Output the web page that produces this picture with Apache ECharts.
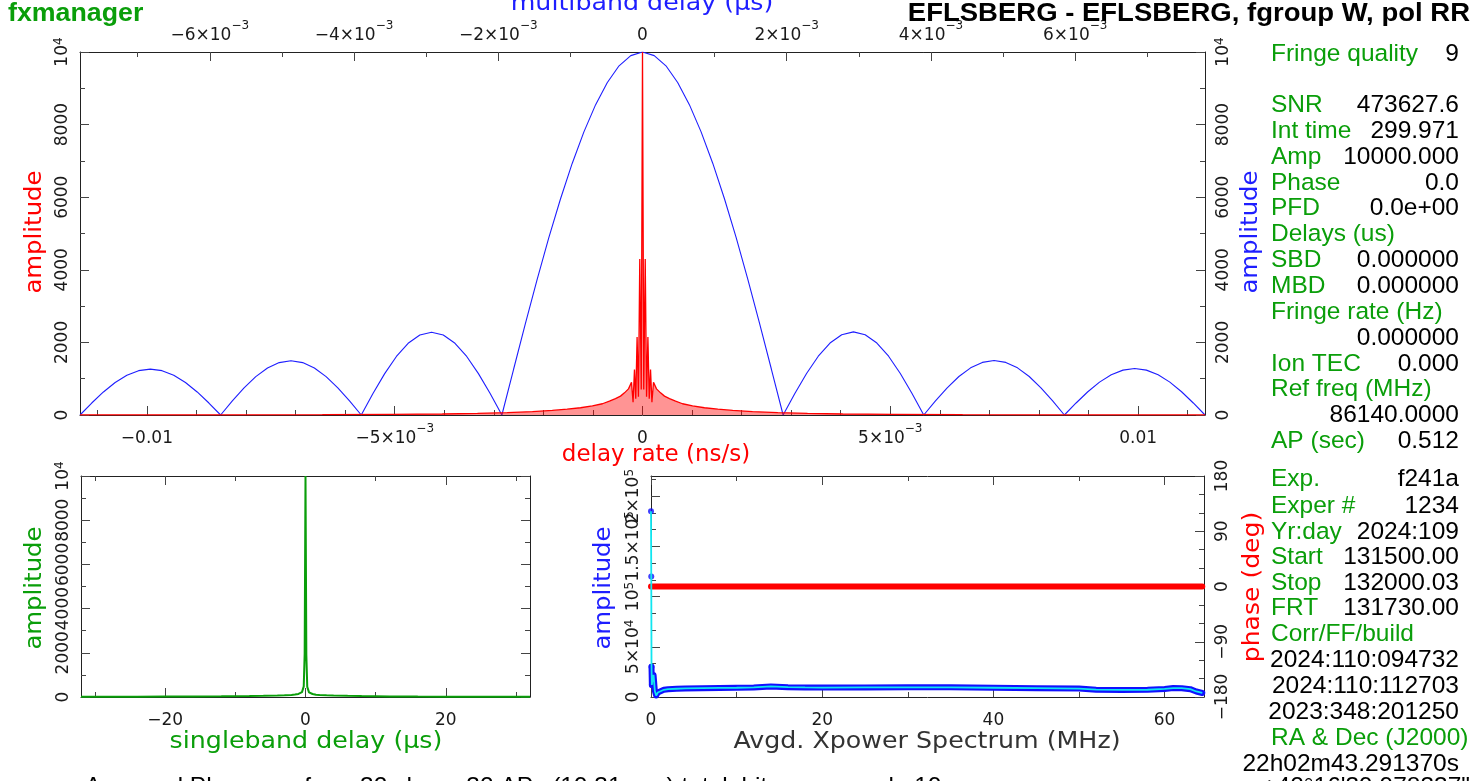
<!DOCTYPE html>
<html><head><meta charset="utf-8">
<script src="https://cdn.jsdelivr.net/npm/echarts@6.0.0/dist/echarts.min.js"></script>
<style>html,body{margin:0;padding:0;background:#fff;overflow:hidden}#c{width:1479px;height:781px}</style>
</head><body><div id="c"></div>
<script>
// ---------------- DATA ----------------
// Top panel, red: amplitude vs delay rate (ns/s); offsets on the positive side, mirrored
const rateOffsets = [0, 2.5e-5, 5.5e-5, 8.2e-5, 1.09e-4, 1.36e-4, 1.62e-4, 1.9e-4, 2.22e-4, 2.83e-4, 3.64e-4, 4.44e-4, 5.45e-4, 6.67e-4, 8.08e-4, 1.01e-3, 1.25e-3, 1.52e-3, 1.82e-3, 2.22e-3, 2.73e-3, 3.33e-3, 4.04e-3, 5.05e-3, 6.46e-3, 8.5e-3, 0.01135];
const rateAmp     = [10000, 700, 4300, 500, 2150, 450, 1250, 350, 900, 720, 610, 520, 450, 380, 310, 250, 200, 160, 125, 95, 65, 45, 28, 17, 10, 6, 4];

// Top panel, blue: amplitude vs multiband delay (us), sampled on a regular grid
const mbdStart = -7.8e-3, mbdStep = 1.625e-4;
const mbdAmp = [
  0, 330, 635, 895, 1095, 1222, 1265, 1222, 1095, 895, 635, 330,
  0, 387, 748, 1057, 1295, 1444, 1495, 1444, 1295, 1057, 748, 387,
  0, 590, 1140, 1612, 1975, 2202, 2280, 2202, 1975, 1612, 1140, 590,
  0, 1260, 2510, 3720, 4880, 5950, 6930, 7800, 8550, 9160, 9620, 9900, 10000, 9900, 9620, 9160, 8550, 7800, 6930, 5950, 4880, 3720, 2510, 1260,
  0, 593, 1145, 1619, 1983, 2212, 2290, 2212, 1983, 1619, 1145, 593,
  0, 388, 750, 1061, 1299, 1449, 1500, 1449, 1299, 1061, 750, 388,
  0, 331, 640, 905, 1108, 1236, 1280, 1236, 1108, 905, 640, 331, 0
];

// Bottom left, green: amplitude vs singleband delay (us)
const sbdDelay = [-32, -28, -24, -20, -16, -12, -8, -6, -4, -3, -2, -1.5, -1, -0.5, -0.25, -0.12, 0, 0.12, 0.25, 0.5, 1, 1.5, 2, 3, 4, 6, 8, 12, 16, 20, 24, 28, 32];
const sbdAmp   = [10, 12, 15, 18, 22, 30, 45, 55, 70, 80, 95, 110, 140, 220, 480, 1950, 10000, 1900, 460, 210, 135, 105, 90, 78, 68, 52, 42, 28, 20, 16, 13, 11, 9];

// Bottom right: avgd. Xpower spectrum (MHz)
const xpFreq  = [0, 0.03, 0.06, 0.1, 0.2, 0.3, 0.45, 0.6, 0.8, 1.0, 1.5, 2, 3, 4, 6, 8, 10, 12, 14, 16, 18, 20, 25, 30, 35, 40, 45, 50, 52, 55, 58, 60, 61, 62, 63, 63.7, 64.4];
const xpAmp   = [185000, 120000, 30000, 12000, 19000, 22000, 6000, 1500, 4500, 6000, 7200, 7800, 8200, 8500, 8800, 9000, 9200, 9500, 10500, 9800, 9500, 9400, 9500, 9600, 9600, 9200, 8800, 8400, 7300, 7000, 7200, 8000, 8900, 8800, 7800, 5500, 4000];
const xpPhase = [0, 0, 0, 0, 0, 0, 0, 0, 0, 0, 0, 0, 0, 0, 0, 0, 0, 0, 0, 0, 0, 0, 0, 0, 0, 0, 0, 0, 0, 0, 0, 0, 0, 0, 0, 0, 0];

// Ticks and tick labels ('^' marks a superscript)
const rateTicks = [-0.01, -0.005, 0, 0.005, 0.01];
const rateTickLabels = ['\u22120.01', '\u22125\u00d710^\u22123', '0', '5\u00d710^\u22123', '0.01'];
const rateMinor = [-0.011, -0.009, -0.008, -0.007, -0.006, -0.004, -0.003, -0.002, -0.001, 0.001, 0.002, 0.003, 0.004, 0.006, 0.007, 0.008, 0.009, 0.011];
const mbdTicks = [-0.006, -0.004, -0.002, 0, 0.002, 0.004, 0.006];
const mbdTickLabels = ['\u22126\u00d710^\u22123', '\u22124\u00d710^\u22123', '\u22122\u00d710^\u22123', '0', '2\u00d710^\u22123', '4\u00d710^\u22123', '6\u00d710^\u22123'];
const mbdMinor = [-0.007, -0.005, -0.003, -0.001, 0.001, 0.003, 0.005, 0.007];
const ampTicks = [0, 2000, 4000, 6000, 8000, 10000];
const ampTickLabels = ['0', '2000', '4000', '6000', '8000', '10^4'];
const ampMinor = [1000, 3000, 5000, 7000, 9000];
const sbdTicks = [-20, 0, 20];
const sbdTickLabels = ['\u221220', '0', '20'];
const sbdMinor = [-30, -10, 10, 30];
const freqTicks = [0, 20, 40, 60];
const freqTickLabels = ['0', '20', '40', '60'];
const freqMinor = [10, 30, 50];
const xpAmpTicks = [0, 50000, 100000, 150000, 200000];
const xpAmpTickLabels = ['0', '5\u00d710^4', '10^5', '1.5\u00d710^5', '2\u00d710^5'];
const xpAmpMinor = [16667, 33333, 66667, 83333, 116667, 133333, 166667, 183333, 216667];
const phaseTicks = [-180, -90, 0, 90, 180];
const phaseTickLabels = ['\u2212180', '\u221290', '0', '90', '180'];
const phaseMinor = [-150, -120, -60, -30, 30, 60, 120, 150];

// Text panel
const infoLabels = ['Fringe quality', 'SNR', 'Int time', 'Amp', 'Phase', 'PFD', 'Delays (us)', 'SBD', 'MBD', 'Fringe rate (Hz)', '', 'Ion TEC', 'Ref freq (MHz)', '', 'AP (sec)', 'Exp.', 'Exper #', 'Yr:day', 'Start', 'Stop', 'FRT', 'Corr/FF/build', '', '', '', 'RA & Dec (J2000)', ''];
const infoValues = ['9', '473627.6', '299.971', '10000.000', '0.0', '0.0e+00', '', '0.000000', '0.000000', '', '0.000000', '0.000', '', '86140.0000', '0.512', 'f241a', '1234', '2024:109', '131500.00', '132000.03', '131730.00', '', '2024:110:094732', '2024:110:112703', '2023:348:201250', '', '22h02m43.291370s'];

// ---------------- BUILD ----------------
const FONT = "'DejaVu Sans', sans-serif";
const RED = '#ff0000', BLUE = '#1e1eff', GREEN = '#0a9e0a', CYAN = '#10e6f0', INK = '#1a1a1a';

const rateData = [];
for (let i = rateOffsets.length - 1; i > 0; i--) rateData.push([-rateOffsets[i], rateAmp[i]]);
for (let i = 0; i < rateOffsets.length; i++) rateData.push([rateOffsets[i], rateAmp[i]]);
const mbdData = mbdAmp.map((v, i) => [mbdStart + i * mbdStep, v]);
const sbdData = sbdDelay.map((x, i) => [x, sbdAmp[i]]);
const xpData = xpFreq.map((x, i) => [x, xpAmp[i]]);
const xpBand = xpData.slice(2);
const xpDots = xpData.slice(0, 4);
const phaseData = xpFreq.map((x, i) => [x, xpPhase[i]]);

const richX = {
  a: { fontFamily: FONT, fontSize: 17, color: INK, lineHeight: 24, verticalAlign: 'bottom' },
  s: { fontFamily: FONT, fontSize: 12, color: INK, verticalAlign: 'top' }
};
const richY = {
  a: { fontFamily: FONT, fontSize: 17, color: INK, lineHeight: 18, verticalAlign: 'bottom' },
  s: { fontFamily: FONT, fontSize: 12, color: INK, verticalAlign: 'top' }
};
function richLabel(str) {
  const i = str.indexOf('^');
  return i < 0 ? '{a|' + str + '}' : '{a|' + str.slice(0, i) + '}{s|' + str.slice(i + 1) + '}';
}
function labelFor(ticks, labels) {
  const eps = Math.abs(ticks[ticks.length - 1] - ticks[0]) * 1e-6;
  return function (v) {
    for (let i = 0; i < ticks.length; i++) if (Math.abs(v - ticks[i]) <= eps) return richLabel(labels[i]);
    return '';
  };
}
function labelCfg(dim, o, values) {
  const isY = dim === 'y';
  return {
    show: true, customValues: values, formatter: labelFor(o.ticks, o.labels),
    rich: isY ? richY : richX, rotate: isY ? 90 : 0, margin: isY ? 9 : 8,
    showMinLabel: true, showMaxLabel: true, hideOverlap: false
  };
}
function baseAxis(o) {
  return { type: 'value', gridIndex: o.grid, position: o.pos, min: o.min, max: o.max,
    splitLine: { show: false }, minorTick: { show: false }, axisPointer: { show: false } };
}
// adds main axis (line, major ticks, labels), a minor-tick axis and, for y, a second label layer
function addAxes(list, dim, o) {
  const idx = list.length;
  const split = dim === 'y' && o.labels;
  const even = o.ticks.filter((t, i) => !split || i % 2 === 0);
  const odd = o.ticks.filter((t, i) => i % 2 === 1);
  const main = baseAxis(o);
  main.axisLine = { show: true, onZero: false, lineStyle: { color: '#222', width: 1 } };
  main.axisTick = { show: true, inside: true, length: 9, customValues: o.ticks, lineStyle: { color: '#444', width: 1 } };
  main.axisLabel = o.labels ? labelCfg(dim, o, even) : { show: false };
  list.push(main);
  const minor = baseAxis(o);
  minor.axisLine = { show: false, onZero: false };
  minor.axisTick = { show: true, inside: true, length: 5, customValues: o.minor, lineStyle: { color: '#444', width: 1 } };
  minor.axisLabel = { show: false };
  list.push(minor);
  if (split && odd.length) {
    const lab = baseAxis(o);
    lab.axisLine = { show: false, onZero: false };
    lab.axisTick = { show: false };
    lab.axisLabel = labelCfg(dim, o, odd);
    list.push(lab);
  }
  return idx;
}

const xAxes = [], yAxes = [];
const xRate = addAxes(xAxes, 'x', { grid: 0, pos: 'bottom', min: -0.01135, max: 0.01135, ticks: rateTicks, labels: rateTickLabels, minor: rateMinor });
const xMbd  = addAxes(xAxes, 'x', { grid: 0, pos: 'top', min: -0.0078, max: 0.0078, ticks: mbdTicks, labels: mbdTickLabels, minor: mbdMinor });
const xSbd  = addAxes(xAxes, 'x', { grid: 1, pos: 'bottom', min: -32, max: 32, ticks: sbdTicks, labels: sbdTickLabels, minor: sbdMinor });
addAxes(xAxes, 'x', { grid: 1, pos: 'top', min: -32, max: 32, ticks: sbdTicks, labels: null, minor: sbdMinor });
const xFreq = addAxes(xAxes, 'x', { grid: 2, pos: 'bottom', min: 0, max: 64.6, ticks: freqTicks, labels: freqTickLabels, minor: freqMinor });
addAxes(xAxes, 'x', { grid: 2, pos: 'top', min: 0, max: 64.6, ticks: freqTicks, labels: null, minor: freqMinor });

const yAmpL = addAxes(yAxes, 'y', { grid: 0, pos: 'left', min: 0, max: 10000, ticks: ampTicks, labels: ampTickLabels, minor: ampMinor });
const yAmpR = addAxes(yAxes, 'y', { grid: 0, pos: 'right', min: 0, max: 10000, ticks: ampTicks, labels: ampTickLabels, minor: ampMinor });
const ySbd  = addAxes(yAxes, 'y', { grid: 1, pos: 'left', min: 0, max: 10000, ticks: ampTicks, labels: ampTickLabels, minor: ampMinor });
addAxes(yAxes, 'y', { grid: 1, pos: 'right', min: 0, max: 10000, ticks: ampTicks, labels: null, minor: ampMinor });
const yXp   = addAxes(yAxes, 'y', { grid: 2, pos: 'left', min: 0, max: 220000, ticks: xpAmpTicks, labels: xpAmpTickLabels, minor: xpAmpMinor });
const yPh   = addAxes(yAxes, 'y', { grid: 2, pos: 'right', min: -180, max: 180, ticks: phaseTicks, labels: phaseTickLabels, minor: phaseMinor });

function txt(x, y, text, o) {
  return {
    type: 'text', x: x, y: y, rotation: o.rot || 0, scaleX: o.sx || 1, silent: true, z: 100,
    style: { text: text, fill: o.color || INK, font: o.font, align: o.align || 'left', verticalAlign: 'middle', textAlign: o.align || 'left', textVerticalAlign: 'middle' }
  };
}
const NAME = "23px 'DejaVu Sans', sans-serif";
const INFO = "24.5px 'Liberation Sans', Arial, sans-serif";
const R90 = Math.PI / 2;
const graphics = [
  txt(8, 14, 'fxmanager', { font: "bold 25px 'Liberation Sans', Arial, sans-serif", color: GREEN, sx: 1.07 }),
  txt(1470, 14, 'EFLSBERG - EFLSBERG, fgroup W, pol RR', { font: "bold 25px 'Liberation Sans', Arial, sans-serif", color: '#000', align: 'right', sx: 1.1 }),
  txt(642, 4, 'multiband delay (\u03bcs)', { font: NAME, color: BLUE, align: 'center', sx: 1.1 }),
  txt(656, 455, 'delay rate (ns/s)', { font: NAME, color: RED, align: 'center' }),
  txt(35, 232, 'amplitude', { font: NAME, color: RED, align: 'center', rot: R90, sx: 1.06 }),
  txt(1251, 232, 'amplitude', { font: NAME, color: BLUE, align: 'center', rot: R90, sx: 1.06 }),
  txt(35, 588, 'amplitude', { font: NAME, color: GREEN, align: 'center', rot: R90, sx: 1.06 }),
  txt(604, 588, 'amplitude', { font: NAME, color: BLUE, align: 'center', rot: R90, sx: 1.06 }),
  txt(1253, 587, 'phase (deg)', { font: NAME, color: RED, align: 'center', rot: R90, sx: 1.09 }),
  txt(306, 742, 'singleband delay (\u03bcs)', { font: NAME, color: GREEN, align: 'center', sx: 1.1 }),
  txt(927, 742, 'Avgd. Xpower Spectrum (MHz)', { font: NAME, color: '#333', align: 'center', sx: 1.1 }),
  txt(85, 787, 'Amp and Phase vs. freq: 32 chans 32 APs (19.31 sec) total, bits per sample 19', { font: INFO, color: '#000' }),
  txt(1470, 787, "+42\u00b016'39.978337\"", { font: INFO, color: '#000', align: 'right' })
];
const infoY = [54, 105, 131, 157, 183, 208, 234, 260, 286, 312, 338, 364, 389, 415, 441, 479, 506, 532, 557, 583, 608, 634, 660, 686, 712, 738, 764];
infoLabels.forEach((s, i) => { if (s) graphics.push(txt(1271, infoY[i], s, { font: INFO, color: GREEN })); });
infoValues.forEach((s, i) => { if (s) graphics.push(txt(1459, infoY[i], s, { font: INFO, color: '#000', align: 'right' })); });

const option = {
  animation: false,
  backgroundColor: '#fff',
  textStyle: { fontFamily: FONT },
  grid: [
    { left: 80, top: 52, width: 1125, height: 363, outerBoundsMode: 'none', containLabel: false },
    { left: 81, top: 476, width: 449, height: 221, outerBoundsMode: 'none', containLabel: false },
    { left: 651, top: 476, width: 553, height: 221, outerBoundsMode: 'none', containLabel: false }
  ],
  xAxis: xAxes,
  yAxis: yAxes,
  graphic: graphics,
  series: [
    { type: 'line', xAxisIndex: xMbd, yAxisIndex: yAmpR, data: mbdData, showSymbol: false, symbol: 'none', silent: true, z: 2,
      lineStyle: { color: BLUE, width: 1.1 } },
    { type: 'line', xAxisIndex: xRate, yAxisIndex: yAmpL, data: rateData, showSymbol: false, symbol: 'none', silent: true, z: 3,
      lineStyle: { color: RED, width: 1.3 }, areaStyle: { color: RED, opacity: 0.42 } },
    { type: 'line', xAxisIndex: xSbd, yAxisIndex: ySbd, data: sbdData, showSymbol: false, symbol: 'none', silent: true,
      lineStyle: { color: GREEN, width: 2 } },
    { type: 'line', xAxisIndex: xFreq, yAxisIndex: yPh, data: phaseData, showSymbol: false, symbol: 'none', silent: true, z: 4,
      lineStyle: { color: RED, width: 6, cap: 'round' } },
    { type: 'line', xAxisIndex: xFreq, yAxisIndex: yXp, data: xpBand, showSymbol: false, symbol: 'none', silent: true, z: 5,
      lineStyle: { color: '#1010ff', width: 6, join: 'round', cap: 'round' } },
    { type: 'scatter', xAxisIndex: xFreq, yAxisIndex: yXp, data: xpDots, symbolSize: 6, clip: false, silent: true, z: 6,
      itemStyle: { color: '#1010ff' } },
    { type: 'line', xAxisIndex: xFreq, yAxisIndex: yXp, data: xpData, showSymbol: false, symbol: 'none', silent: true, z: 7,
      lineStyle: { color: CYAN, width: 1.8 } }
  ]
};
const chart = echarts.init(document.getElementById('c'), null, { renderer: 'canvas' });
chart.setOption(option);
</script></body></html>
